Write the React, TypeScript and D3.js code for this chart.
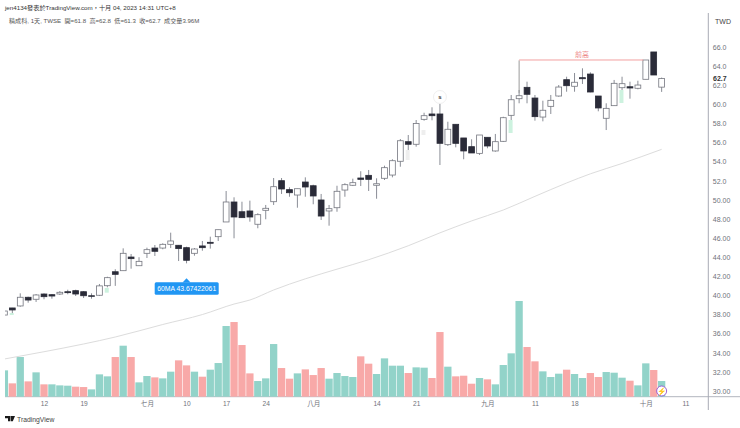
import * as React from "react";
import * as d3 from "d3";

// daily OHLC, one entry per bar
const opens = [37.95,38.69,38.9,39.81,39.6,40.15,40.08,40.15,40.39,40.5,40.39,39.97,40.02,41.02,42.48,42.59,44.02,43.11,44.41,44.96,44.96,45.35,45.25,45.0,44.41,45.18,45.56,46.15,47.69,49.78,48.76,48.84,47.45,48.91,49.81,52.01,51.07,50.51,51.87,51.48,49.99,48.84,49.18,51.03,51.53,52.29,52.57,51.53,52.26,52.6,54.04,56.09,55.82,58.43,58.99,58.99,55.78,57.91,56.48,55.57,54.87,56.55,55.12,56.13,58.85,60.59,61.78,60.66,58.67,59.79,60.87,62.58,61.89,62.79,63.17,60.87,58.54,59.86,61.74,61.84,61.68,62.62,65.48,61.8];
const closes = [38.37,38.48,39.81,39.52,40.05,39.87,39.94,40.33,40.29,40.15,39.97,39.91,41.0,41.86,42.21,44.41,43.85,43.57,44.79,44.62,45.35,45.7,44.9,43.68,44.86,45.0,45.46,46.88,49.78,48.21,48.14,48.21,48.45,49.12,51.38,51.14,50.75,51.17,51.35,50.41,48.31,49.08,50.9,51.59,51.8,52.15,52.15,51.69,53.37,54.1,56.19,55.82,58.0,58.81,58.81,55.92,57.39,55.92,55.12,54.91,56.79,55.64,56.09,58.6,60.48,60.9,61.05,58.71,59.38,60.42,61.81,61.95,62.31,62.68,61.29,59.62,59.58,62.2,62.16,61.71,62.02,64.64,63.07,62.7];
const highs = [38.4,38.7,40.22,39.87,40.15,40.22,40.15,40.46,40.6,40.6,40.46,40.22,41.2,41.96,42.74,44.93,44.34,44.0,45.0,45.28,45.46,46.57,45.28,45.1,44.96,45.7,46.15,46.88,50.93,50.27,49.81,49.92,48.6,49.47,52.29,52.29,51.32,51.17,52.36,51.59,50.62,49.47,51.48,51.74,52.22,53.0,53.13,52.26,53.58,54.25,56.37,56.79,58.36,59.12,59.69,60.11,58.18,57.91,56.48,56.34,56.79,56.55,56.9,58.7,60.98,61.5,62.37,60.98,60.38,60.98,62.02,62.89,63.28,63.77,63.35,60.87,60.11,62.55,62.89,62.37,62.47,64.64,65.48,62.8];
const lows = [37.9,38.15,38.82,39.24,39.32,39.6,39.66,40.05,40.12,39.94,39.73,39.66,39.94,40.85,41.0,42.59,42.8,43.08,43.92,44.13,44.83,44.96,43.6,43.36,44.16,44.68,44.9,45.7,47.69,45.98,48.14,47.72,47.03,47.97,49.47,50.62,50.33,49.18,50.33,49.54,47.9,47.3,48.76,50.33,51.45,51.45,50.93,50.12,52.08,52.36,53.47,55.22,55.57,58.29,58.33,53.65,55.64,55.5,54.25,54.91,54.7,55.4,55.04,56.06,58.36,60.11,60.11,58.29,58.22,58.99,60.8,61.32,61.32,62.13,61.26,59.27,57.31,59.86,61.5,60.59,61.57,62.62,63.07,61.3];

// volume in millions, and the bars drawn pink
const volumes = [6.65,3.37,10.02,3.87,6.15,3.12,3.12,2.86,2.78,2.53,2.44,1.85,5.64,5.14,10.02,12.88,10.02,3.62,5.22,4.88,4.63,6.32,9.18,7.91,6.32,5.05,6.82,8.5,17.85,18.86,13.05,5.89,3.96,4.63,13.3,7.24,4.55,5.89,6.9,5.47,7.24,4.55,5.98,5.22,4.97,10.19,8.34,5.73,9.68,7.83,7.83,5.98,7.41,7.33,4.72,16.33,7.58,5.14,5.3,3.28,4.72,4.38,3.12,8.0,10.95,24.17,12.55,8.93,6.4,4.97,5.81,6.82,5.73,4.72,5.98,4.97,6.23,6.06,4.8,4.04,2.86,8.42,6.74,3.96];
const pinkBars = [1,3,5,9,10,14,16,19,22,23,25,29,30,31,35,36,38,39,40,45,46,51,54,55,57,58,59,61,66,67,71,74,75,79,82];

// 60MA, readings at these bars
const maBars = [0,5,10,14,20,25,29,31,34,38,42,46,51,55,59,63,67,71,74,78,83];
const maValues = [33.35,34.11,34.92,35.65,36.96,38.0,39.1,39.52,40.57,41.74,42.75,43.74,45.2,46.55,47.8,48.94,50.37,51.77,52.73,53.81,55.29];

// faint slivers sitting behind some candles
const ghostBars = [1,13,51,53,64,78];
const ghostTops = [38.16,40.78,55.22,57.31,58.36,61.5];
const ghostBottoms = [37.95,40.29,54.17,56.79,57.0,60.14];
const ghostColors = ["#cdf2df","#cdf2df","#eeeeee","#eeeeee","#cdf2df","#cdf2df"];

const priceTicks = [66,64,62,60,58,56,54,52,50,48,46,44,42,40,38,36,34,32,30];
const lastPrice = 62.7;
const dateBars = [5,10,18,23,28,33,39,47,52,61,67,72,81,86];
const dateLabels = ["12","19","七月","10","17","24","八月","14","21","九月","11","18","十月","11"];

const FONT = "'Liberation Sans','Noto Sans CJK TC',sans-serif";

export default function App() {
  const ref = React.useRef<SVGSVGElement>(null);

  React.useEffect(() => {
    const svg = d3.select(ref.current);
    svg.selectAll("*").remove();
    svg.style("font-family", FONT);

    const x = d3.scaleLinear().domain([0, 86]).range([4.41, 685.4]);
    const y = d3.scaleLinear().domain([30, 66]).range([391, 47]);
    const vol = d3.scaleLinear().domain([0, 25]).range([396.7, 297.7]);

    svg.append("defs").append("clipPath").attr("id", "plot")
      .append("rect").attr("x", 5).attr("y", 13).attr("width", 703).attr("height", 384);

    // frame
    svg.append("line").attr("x1", 5).attr("x2", 740).attr("y1", 396.7).attr("y2", 396.7).attr("stroke", "#b2b5be").attr("stroke-width", 1);
    svg.append("line").attr("x1", 708.3).attr("x2", 708.3).attr("y1", 13).attr("y2", 410).attr("stroke", "#a8abb4").attr("stroke-width", 1);

    const plot = svg.append("g").attr("clip-path", "url(#plot)");

    // volume
    plot.append("g").selectAll("rect").data(volumes).join("rect")
      .attr("x", (_, i) => x(i) - 3.65)
      .attr("width", 7.3)
      .attr("y", d => vol(d))
      .attr("height", d => 396.7 - vol(d))
      .attr("fill", (_, i) => pinkBars.includes(i) ? "#f8a9a8" : "#92d3c9");

    // 60MA
    const maLine = d3.line<number>()
      .x((_, i) => x(maBars[i]))
      .y(d => y(d))
      .curve(d3.curveMonotoneX);
    plot.append("path").attr("d", maLine(maValues)).attr("fill", "none").attr("stroke", "#dcdcdc").attr("stroke-width", 1);

    plot.append("g").selectAll("rect").data(ghostBars).join("rect")
      .attr("x", d => x(d) - 2.6)
      .attr("width", 4)
      .attr("y", (_, i) => y(ghostTops[i]))
      .attr("height", (_, i) => y(ghostBottoms[i]) - y(ghostTops[i]))
      .attr("fill", (_, i) => ghostColors[i]);

    // candles
    const candles = plot.append("g").selectAll("g").data(opens).join("g");
    candles.append("line")
      .attr("x1", (_, i) => x(i)).attr("x2", (_, i) => x(i))
      .attr("y1", (_, i) => y(highs[i])).attr("y2", (_, i) => y(lows[i]))
      .attr("stroke", "#8a8d96").attr("stroke-width", 1);
    candles.append("rect")
      .attr("x", (_, i) => x(i) - 2.9)
      .attr("width", 5.8)
      .attr("y", (d, i) => y(Math.max(d, closes[i])))
      .attr("height", (d, i) => Math.max(0.6, Math.abs(y(d) - y(closes[i]))))
      .attr("fill", (d, i) => closes[i] >= d ? "#ffffff" : "#2a2b38")
      .attr("stroke", (d, i) => closes[i] >= d ? "#74767f" : "#2a2b38")
      .attr("stroke-width", 0.8);

    // 前高 drawing
    svg.append("line").attr("x1", x(65)).attr("x2", x(65)).attr("y1", y(64.6)).attr("y2", y(61.2)).attr("stroke", "#9a9a9a").attr("stroke-width", 1);
    svg.append("line").attr("x1", x(65)).attr("x2", x(81) - 2.5).attr("y1", y(64.64)).attr("y2", y(64.64)).attr("stroke", "#f2a0a0").attr("stroke-width", 1);
    svg.append("text").attr("x", 582).attr("y", 57).attr("text-anchor", "middle").attr("font-size", 7).attr("fill", "#ee8a8a").text("前高");

    // s marker
    svg.append("circle").attr("cx", x(55)).attr("cy", 97).attr("r", 6.5).attr("fill", "#fff").attr("stroke", "#f0f0f0");
    svg.append("text").attr("x", x(55)).attr("y", 99).attr("text-anchor", "middle").attr("font-size", 6).attr("font-weight", "bold").attr("fill", "#333").text("s");

    // 60MA note
    const noteX = x(23);
    svg.append("path").attr("d", `M${noteX - 4},282.5 L${noteX},278.3 L${noteX + 4},282.5 Z`).attr("fill", "#2196f3");
    svg.append("rect").attr("x", 154.7).attr("y", 282.3).attr("width", 64).attr("height", 12.4).attr("rx", 1.5).attr("fill", "#2196f3");
    svg.append("text").attr("x", 186.7).attr("y", 291).attr("text-anchor", "middle").attr("font-size", 6.8).attr("fill", "#fff").text("60MA 43.67422061");

    // lightning badge
    const badgeX = x(83);
    svg.append("circle").attr("cx", badgeX).attr("cy", 391).attr("r", 5).attr("fill", "#fff").attr("stroke", "#8e4fd0").attr("stroke-width", 0.9);
    svg.append("text").attr("x", badgeX).attr("y", 393.8).attr("text-anchor", "middle").attr("font-size", 7.5).attr("fill", "#8e4fd0").text("⚡");

    // price axis
    const yAxis = svg.append("g").attr("transform", "translate(708.3,0)")
      .call(d3.axisRight(y).tickValues(priceTicks).tickSize(0).tickPadding(4.5)
        .tickFormat((d: any) => d >= 52 ? d.toFixed(1) : d.toFixed(2)));
    yAxis.select(".domain").remove();
    yAxis.selectAll("text").attr("font-size", 7).attr("font-family", FONT).attr("fill", "#6f727a");

    svg.append("text").attr("x", 713).attr("y", y(lastPrice) + 2.4).attr("font-size", 7).attr("font-weight", "bold").attr("fill", "#333").text(lastPrice.toFixed(1));
    svg.append("text").attr("x", 715).attr("y", 24).attr("font-size", 7).attr("fill", "#444").text("TWD");

    // date axis
    const xAxis = svg.append("g").attr("transform", "translate(0,396.7)")
      .call(d3.axisBottom(x).tickValues(dateBars).tickSize(0).tickPadding(5)
        .tickFormat((_: any, i: number) => dateLabels[i]));
    xAxis.select(".domain").remove();
    xAxis.selectAll("text").attr("font-size", 6.6).attr("font-family", FONT).attr("fill", "#6f727a");

    // header
    svg.append("text").attr("x", 5).attr("y", 10.2).attr("font-size", 6.2).attr("fill", "#333").text("jen4134發表於TradingView.com，十月 04, 2023 14:31 UTC+8");
    svg.append("text").attr("x", 9).attr("y", 23.2).attr("font-size", 6.1).attr("fill", "#555").attr("xml:space", "preserve")
      .text("精成科, 1天, TWSE  開=61.8  高=62.8  低=61.3  收=62.7  成交量3.96M");

    // footer
    svg.append("path").attr("d", "M5,416 h5.2 v5.2 h-2.2 v-3 h-3 Z M10.6,416 h4.4 l-2.2,5.2 h-2 Z").attr("fill", "#1a1a1a");
    svg.append("text").attr("x", 17).attr("y", 421.5).attr("font-size", 6.8).attr("fill", "#444").text("TradingView");
  }, []);

  return <svg ref={ref} width={740} height={428} style={{ position: "absolute", left: 0, top: 0, background: "#fff" }} />;
}
